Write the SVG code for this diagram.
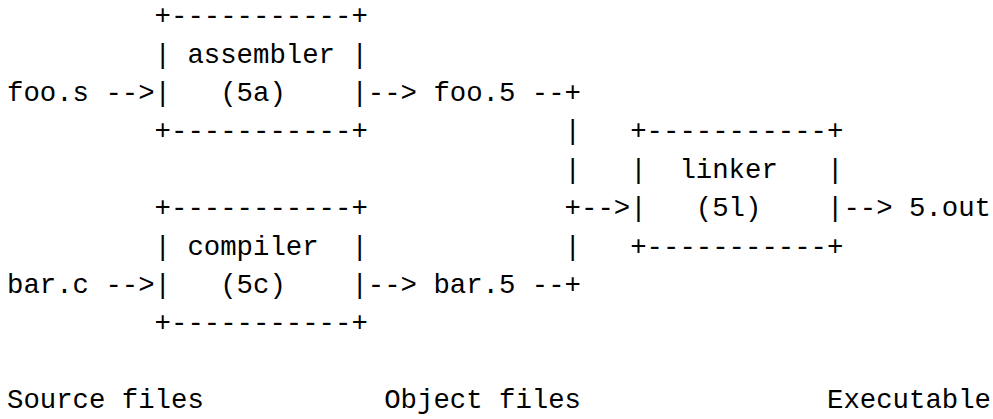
<svg xmlns="http://www.w3.org/2000/svg" width="993" height="419" viewBox="0 0 993 419">
  <style>
    text { font-family: "Liberation Mono", "DejaVu Sans Mono", monospace; font-size: 27.33px; fill: #000; white-space: pre; }
  </style>
  <rect width="993" height="419" fill="#fff"/>

  <!-- character grid: x = 7 + col*16.4, row baselines every 38.4px -->

  <g id="assembler">
    <text x="154.6" y="24.2">+-----------+</text>
    <text x="154.6" y="62.6">|</text>
    <text x="187.4" y="62.6">assembler</text>
    <text x="351.4" y="62.6">|</text>
    <text x="154.6" y="101">|</text>
    <text x="220.2" y="101">(5a)</text>
    <text x="351.4" y="101">|</text>
    <text x="154.6" y="139.4">+-----------+</text>
  </g>

  <g id="compiler">
    <text x="154.6" y="216.2">+-----------+</text>
    <text x="154.6" y="254.6">|</text>
    <text x="187.4" y="254.6">compiler</text>
    <text x="351.4" y="254.6">|</text>
    <text x="154.6" y="293">|</text>
    <text x="220.2" y="293">(5c)</text>
    <text x="351.4" y="293">|</text>
    <text x="154.6" y="331.4">+-----------+</text>
  </g>

  <g id="linker">
    <text x="630.2" y="139.4">+-----------+</text>
    <text x="630.2" y="177.8">|</text>
    <text x="679.4" y="177.8">linker</text>
    <text x="827" y="177.8">|</text>
    <text x="630.2" y="216.2">|</text>
    <text x="695.8" y="216.2">(5l)</text>
    <text x="827" y="216.2">|</text>
    <text x="630.2" y="254.6">+-----------+</text>
  </g>

  <g id="files">
    <text x="7" y="101">foo.s</text>
    <text x="7" y="293">bar.c</text>
    <text x="433.4" y="101">foo.5</text>
    <text x="433.4" y="293">bar.5</text>
    <text x="909" y="216.2">5.out</text>
  </g>

  <g id="connectors">
    <text x="105.4" y="101">--&gt;</text>
    <text x="105.4" y="293">--&gt;</text>
    <text x="367.8" y="101">--&gt;</text>
    <text x="367.8" y="293">--&gt;</text>
    <text x="531.8" y="101">--+</text>
    <text x="531.8" y="293">--+</text>
    <text x="564.6" y="139.4">|</text>
    <text x="564.6" y="177.8">|</text>
    <text x="564.6" y="216.2">+--&gt;</text>
    <text x="564.6" y="254.6">|</text>
    <text x="843.4" y="216.2">--&gt;</text>
  </g>

  <g id="captions">
    <text x="7" y="408.2">Source files</text>
    <text x="384.2" y="408.2">Object files</text>
    <text x="827" y="408.2">Executable</text>
  </g>
</svg>
